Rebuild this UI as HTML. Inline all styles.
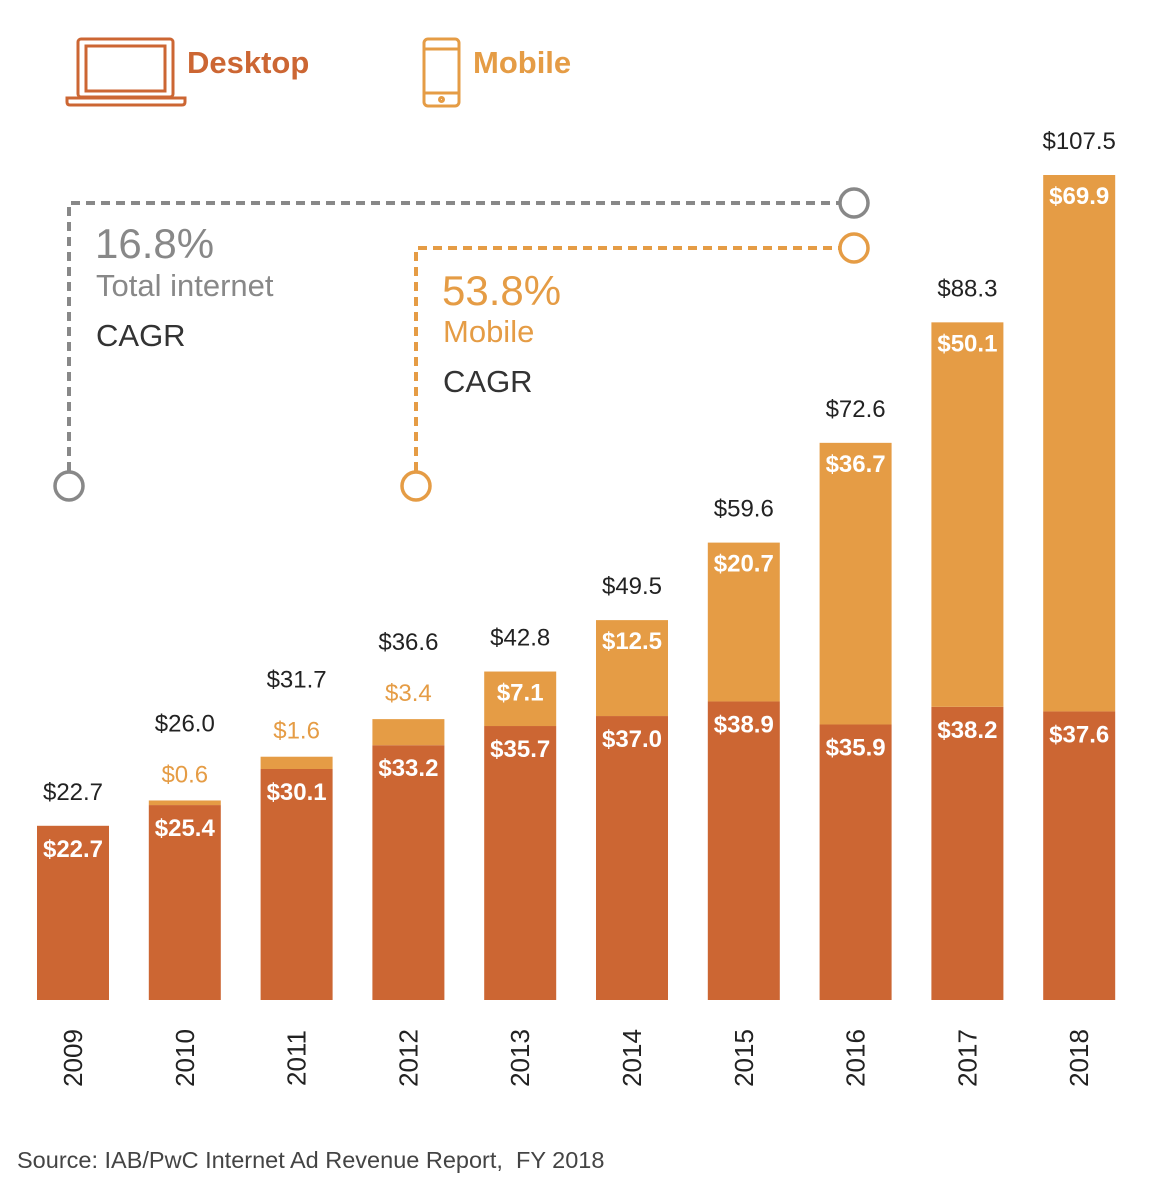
<!DOCTYPE html>
<html><head><meta charset="utf-8"><style>
body{margin:0;background:#fff;}
svg text{font-family:"Liberation Sans",Arial,sans-serif;}
</style></head><body>
<svg id="chart" width="1156" height="1194" viewBox="0 0 1156 1194" xmlns="http://www.w3.org/2000/svg">
<g>
 <g fill="none" stroke="#cc6633" stroke-width="3">
  <rect x="78" y="39" width="95" height="58" rx="3"/>
  <rect x="86" y="46" width="79" height="45"/>
  <path d="M67 98 H185 V102 Q185 105 182 105 H70 Q67 105 67 102 Z"/>
 </g>
 <text x="187" y="73" font-size="31" font-weight="bold" fill="#cc6633">Desktop</text>
 <g fill="none" stroke="#e59c45" stroke-width="3">
  <rect x="424" y="39" width="35" height="67" rx="4"/>
  <line x1="424" y1="49" x2="459" y2="49"/><line x1="424" y1="93" x2="459" y2="93"/>
  <circle cx="441.5" cy="99.5" r="2"/>
 </g>
 <text x="473" y="73" font-size="31" font-weight="bold" fill="#e59c45">Mobile</text>
</g>
<g>
 <path d="M69 471 V203 H840" fill="none" stroke="#888" stroke-width="4" stroke-dasharray="9,6"/>
 <circle cx="69" cy="486" r="14" fill="#fff" stroke="#888" stroke-width="3.5"/>
 <circle cx="854" cy="203" r="14" fill="#fff" stroke="#888" stroke-width="3.5"/>
 <path d="M416 471 V248 H840" fill="none" stroke="#e59c45" stroke-width="4" stroke-dasharray="9,6"/>
 <circle cx="416" cy="486" r="14" fill="#fff" stroke="#e59c45" stroke-width="3.5"/>
 <circle cx="854" cy="248" r="14" fill="#fff" stroke="#e59c45" stroke-width="3.5"/>
 <text x="95" y="258" font-size="42" fill="#888">16.8%</text>
 <text x="96" y="296" font-size="31" fill="#888">Total internet</text>
 <text x="96" y="346" font-size="31" fill="#333">CAGR</text>
 <text x="442" y="305" font-size="42" fill="#e59c45">53.8%</text>
 <text x="443" y="342" font-size="31" fill="#e59c45">Mobile</text>
 <text x="443" y="392" font-size="31" fill="#333">CAGR</text>
</g>
<g id="bars"></g>
<text x="17" y="1168" font-size="23.5" fill="#444">Source: IAB/PwC Internet Ad Revenue Report, &#160;FY 2018</text>
</svg>
<script>
const years=["2009","2010","2011","2012","2013","2014","2015","2016","2017","2018"];
const desktop=[22.7,25.4,30.1,33.2,35.7,37.0,38.9,35.9,38.2,37.6];
const mobile=[0,0.6,1.6,3.4,7.1,12.5,20.7,36.7,50.1,69.9];
const totals=[22.7,26.0,31.7,36.6,42.8,49.5,59.6,72.6,88.3,107.5];
const NS="http://www.w3.org/2000/svg";
const baseY=1000, scale=825/107.5;
const y=v=>baseY-v*scale;
const xc=i=>73+111.8*i;
const bw=72;
const g=document.getElementById("bars");
function mk(tag,attrs,txt){const e=document.createElementNS(NS,tag);for(const k in attrs)e.setAttribute(k,attrs[k]);if(txt!==undefined)e.textContent=txt;g.appendChild(e);return e;}
years.forEach((yr,i)=>{
 const cx=xc(i);
 const dTop=y(desktop[i]);
 const d=mk("rect",{x:cx-bw/2,y:dTop,width:bw,height:baseY-dTop,fill:"#cc6633"});
 
 
 let top=dTop;
 if(mobile[i]>0){
  const mTop=y(desktop[i]+mobile[i]);
  const m=mk("rect",{x:cx-bw/2,y:mTop,width:bw,height:dTop-mTop,fill:"#e59c45"});
  
  
  top=mTop;
 }
 const dl=mk("text",{x:cx,y:dTop+31,"font-size":24,"text-anchor":"middle",fill:"#fff","font-weight":"bold"},"$"+desktop[i].toFixed(1));
 
 
 let totY=top-26;
 if(mobile[i]>0){
  const big=mobile[i]>=5;
  const ml=mk("text",{x:cx,y:big?top+29:top-18,"font-size":24,"text-anchor":"middle",fill:big?"#fff":"#e59c45","font-weight":big?"bold":"normal"},"$"+mobile[i].toFixed(1));
  
  
  if(!big) totY=top-69;
 }
 const tl=mk("text",{x:cx,y:totY,"font-size":24,"text-anchor":"middle",fill:"#222"},"$"+totals[i].toFixed(1));
 
 
 const yl=mk("text",{x:0,y:0,"font-size":26,"text-anchor":"middle",fill:"#222",transform:`translate(${cx+9},1058) rotate(-90)`},yr);
 
 
});
</script>
</body></html>
